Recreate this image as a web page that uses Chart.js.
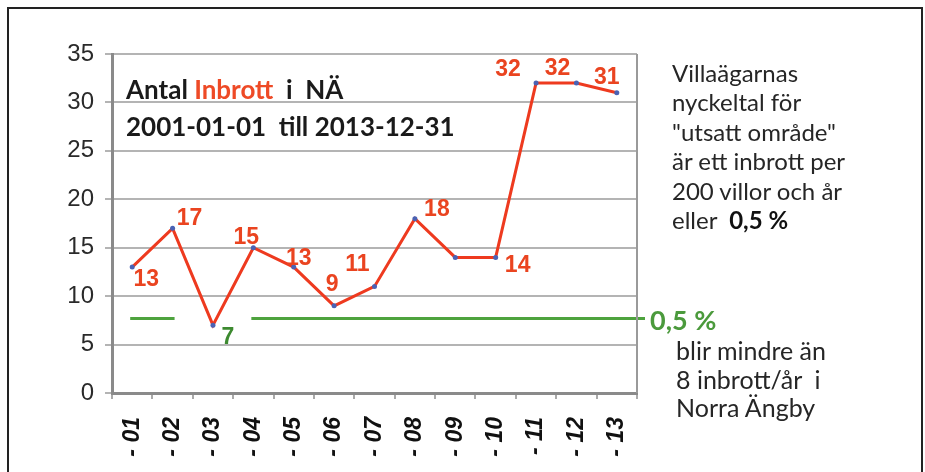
<!DOCTYPE html>
<html>
<head>
<meta charset="utf-8">
<script src="https://cdn.jsdelivr.net/npm/chart.js@4.4.0/dist/chart.umd.min.js"></script>
<style>
    html, body { margin: 0; padding: 0; background: #fff; }
    #wrap { position: relative; width: 925px; height: 472px; overflow: hidden; }
    #frame { position: absolute; left: 7px; top: 7px; width: 912px; height: 520px; border: 2px solid #222; }
    canvas { position: absolute; left: 0; top: 0; }
    .txt { position: absolute; font-family: Lato, 'Open Sans', sans-serif; color: #262626; white-space: pre; }
</style>
</head>
<body>
<div id="wrap">
    <div id="frame"></div>
    <canvas id="myChart" width="925" height="472"></canvas>
    <div class="txt" style="left:126px; top:71px; font-weight:bold; font-size:26px; line-height:37px; color:#1a1a1a;">Antal <span style="color:#ee4a26">Inbrott</span>  i  NÄ
2001-01-01  till 2013-12-31</div>
    <div class="txt" style="left:672px; top:58px; font-size:24px; line-height:29.4px;">Villaägarnas
nyckeltal för
"utsatt område"
är ett inbrott per
200 villor och år
eller  <b style="color:#111">0,5 %</b></div>
    <div class="txt" style="left:650px; top:305px; font-size:27px; line-height:30px; font-weight:bold; color:#4b9a3c;">0,5 %</div>
    <div class="txt" style="left:676px; top:336px; font-size:25px; line-height:28.5px;">blir mindre än
8 inbrott/år  i
Norra Ängby</div>
</div>

<script>
const years = ['- 01', '- 02', '- 03', '- 04', '- 05', '- 06', '- 07', '- 08', '- 09', '- 10', '- 11', '- 12', '- 13'];
const burglaries = [13, 17, 7, 15, 13, 9, 11, 18, 14, 14, 32, 32, 31];
const yTicks = [0, 5, 10, 15, 20, 25, 30, 35];
const threshold = 7.7;              // 0,5 % of the houses
const thresholdRuns = [[0, 1], [3, 12]];  // category ranges where the green line runs

// where each value label sits relative to its point (null = no label)
const labelOffsets = [
    [14, 13], [17, -10], [15, 12], [-7, -10], [5, -8], [-2, -21], [-17, -22],
    [22, -9], null, [22, 8], [-28, -13], [-19, -14], [-10, -15]
];

//------------------------------------------ plugins -----------------------------------------------

const thresholdLine = {
    id: 'thresholdLine',
    beforeDatasetsDraw(chart) {
        const ctx = chart.ctx;
        const x = chart.scales.x;
        const y = chart.scales.y.getPixelForValue(threshold);
        ctx.save();
        ctx.strokeStyle = '#4ea33e';
        ctx.lineWidth = 3;
        thresholdRuns.forEach(([a, b], i) => {
            const x0 = x.getPixelForValue(a) - 2;
            const x1 = i === thresholdRuns.length - 1 ? chart.chartArea.right + 8 : x.getPixelForValue(b) + 2;
            ctx.beginPath();
            ctx.moveTo(x0, y);
            ctx.lineTo(x1, y);
            ctx.stroke();
        });
        ctx.restore();
    }
};

const plotBorder = {
    id: 'plotBorder',
    beforeDatasetsDraw(chart) {
        const { ctx, chartArea } = chart;
        ctx.save();
        ctx.strokeStyle = '#9a9a9a';
        ctx.lineWidth = 2;
        ctx.beginPath();
        ctx.moveTo(chartArea.right, chartArea.top);
        ctx.lineTo(chartArea.right, chartArea.bottom);
        ctx.stroke();
        ctx.restore();
    }
};

const valueLabels = {
    id: 'valueLabels',
    afterDatasetsDraw(chart) {
        const ctx = chart.ctx;
        const meta = chart.getDatasetMeta(0);
        ctx.save();
        ctx.font = 'bold 23px "Liberation Sans", Arial, sans-serif';
        ctx.textAlign = 'center';
        ctx.textBaseline = 'middle';
        meta.data.forEach((pt, i) => {
            const off = labelOffsets[i];
            if (!off) return;
            ctx.fillStyle = burglaries[i] < threshold ? '#3d8a30' : '#ea4420';
            ctx.fillText(String(burglaries[i]), pt.x + off[0], pt.y + off[1]);
        });
        ctx.restore();
    }
};

//------------------------------------------ chart -----------------------------------------------

const data = {
    labels: years,
    datasets: [{
        label: 'Antal inbrott',
        data: burglaries,
        borderColor: '#ee3a1f',
        borderWidth: 3,
        tension: 0,
        pointRadius: 2.5,
        pointBackgroundColor: '#4a62b4',
        pointBorderWidth: 0,
    }]
};

const config = {
    type: 'line',
    data: data,
    options: {
        responsive: false,
        animation: false,
        layout: {
            padding: { left: 0, top: 54, right: 288, bottom: 0 },
        },
        plugins: {
            legend: { display: false },
            tooltip: { enabled: false },
        },
        scales: {
            x: {
                offset: true,
                grid: {
                    offset: true,
                    drawOnChartArea: false,
                    drawTicks: true,
                    tickLength: 6,
                    color: '#aaaaaa',
                    lineWidth: 2,
                },
                border: { color: '#8a8a8a', width: 3 },
                ticks: {
                    maxRotation: 90,
                    minRotation: 90,
                    padding: 18,
                    color: '#111',
                    font: { family: '"Liberation Sans", Arial, sans-serif', size: 23, weight: 'bold', style: 'italic' },
                },
                afterFit(scale) { scale.height = 79; },
            },
            y: {
                min: 0,
                max: 35,
                afterBuildTicks(scale) { scale.ticks = yTicks.map(v => ({ value: v })); },
                grid: {
                    color: '#b4b4b4',
                    lineWidth: 2,
                    tickLength: 7,
                },
                border: { color: '#8a8a8a', width: 3 },
                ticks: {
                    padding: 11,
                    color: '#2a2a2a',
                    font: { family: '"Liberation Sans", Arial, sans-serif', size: 24 },
                },
                afterFit(scale) { scale.width = 112; },
            },
        }
    },
    plugins: [thresholdLine, plotBorder, valueLabels]
};

const myChart = new Chart(
    document.getElementById('myChart'),
    config
);
</script>
</body>
</html>
